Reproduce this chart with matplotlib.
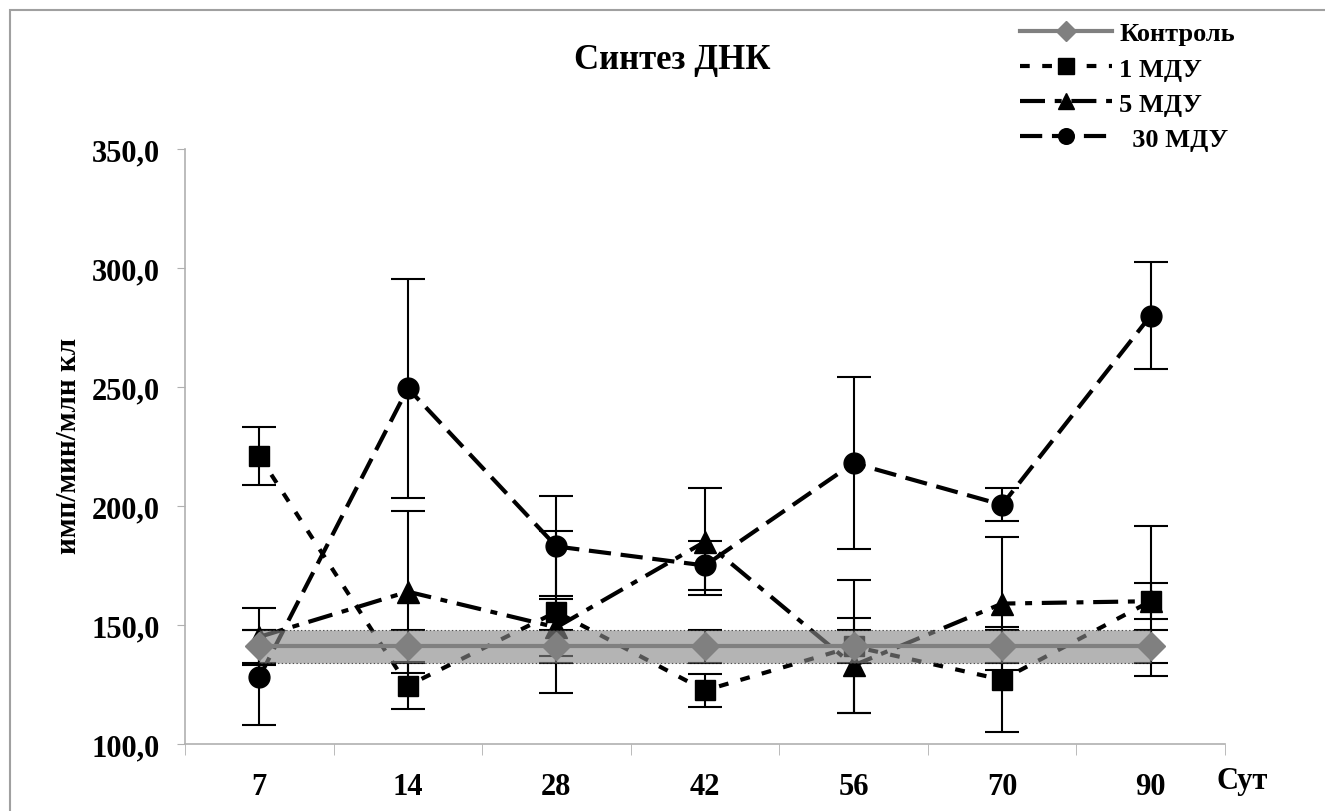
import matplotlib
matplotlib.use("Agg")
import matplotlib.pyplot as plt
import matplotlib.patches as mPatches
import numpy as np

plt.rcParams['font.family'] = ['Liberation Serif', 'DejaVu Serif']
plt.rcParams['font.weight'] = 'bold'
plt.rcParams['lines.scale_dashes'] = False

# ----- data -----
days = ['7', '14', '28', '42', '56', '70', '90']
control = [141, 141, 141, 141, 141, 141, 141]
control_sd = [7, 7, 7, 7, 7, 7, 7]
mdu1 = [221, 124.5, 155.5, 122.5, 141, 127, 160]
mdu1_sd = [12, 10, 34, 7, 28, 22, 7.5]
mdu5 = [145, 164, 149, 185, 133, 159, 160]
mdu5_sd = [12, 34, 12, 22.5, 20, 28, 31.5]
mdu30 = [128, 249.5, 183, 175, 218, 200.5, 280]
mdu30_sd = [20, 46, 21, 10.5, 36, 7, 22.5]

x = np.arange(len(days))

f, ax1 = plt.subplots(1, 1, figsize=(13.25, 8.12), dpi=100)
f.subplots_adjust(left=0.1396, right=0.9245, bottom=0.0825, top=0.8153)

# outer chart frame
f.patches.append(mPatches.Rectangle((10 / 1325, -0.1), 1.2, 1 - 11 / 812 + 0.1,
                                    transform=f.transFigure, fill=False,
                                    edgecolor='#a0a0a0', lw=1.5))

ebkw = dict(fmt='none', ecolor='black', elinewidth=1.5, capsize=12, capthick=1.5, zorder=2)
ax1.errorbar(x, mdu1, yerr=mdu1_sd, **ebkw)
ax1.errorbar(x, mdu5, yerr=mdu5_sd, **ebkw)
ax1.errorbar(x, mdu30, yerr=mdu30_sd, **ebkw)
ax1.errorbar(x, control, yerr=control_sd, **ebkw)

l1, = ax1.plot(x, mdu1, color='black', lw=3, marker='s', ms=15, label='1 МДУ', zorder=3)
l1.set_dashes((7, 9))
l5, = ax1.plot(x, mdu5, color='black', lw=3, marker='^', ms=16, label='5 МДУ', zorder=3)
l5.set_dashes((18, 7, 5, 7))
l30, = ax1.plot(x, mdu30, color='black', lw=3, marker='o', ms=15, label='  30 МДУ', zorder=3)
l30.set_dashes((16, 7))

# control range band drawn over the series
lo = np.array(control) - np.array(control_sd)
hi = np.array(control) + np.array(control_sd)
ax1.fill_between(x, lo, hi, facecolor='#888888', alpha=0.63, edgecolor='black',
                 linestyle=':', lw=0.8, zorder=4)
lc, = ax1.plot(x, control, color='#808080', lw=3, marker='D', ms=14,
               label='Контроль', zorder=5)

ax1.set_xlim(-0.5, len(days) - 0.5)
ax1.set_ylim(100, 350)
yt = np.arange(100, 351, 50)
ax1.set_yticks(yt)
ax1.set_yticklabels([('%.1f' % v).replace('.', ',') for v in yt])
ax1.set_xticks(x)
ax1.set_xticklabels(days)
ax1.set_xticks(np.arange(-0.5, len(days), 1), minor=True)
ax1.tick_params(axis='x', which='major', length=0, pad=20, labelsize=22)
ax1.tick_params(axis='x', which='minor', length=8, color='#b0b0b0', direction='out')
ax1.tick_params(axis='y', length=6, color='#b0b0b0', pad=12, labelsize=22)

for s in ['top', 'right']:
    ax1.spines[s].set_visible(False)
for s in ['left', 'bottom']:
    ax1.spines[s].set_color('#b0b0b0')
    ax1.spines[s].set_linewidth(1.2)

ax1.set_ylabel('имп/мин/млн кл', fontsize=21, fontweight='bold')
ax1.yaxis.set_label_coords(-0.099, 0.503)
ax1.text(0.992, -0.037, 'Сут', transform=ax1.transAxes, fontsize=22,
         fontweight='bold', ha='left', va='top')
f.text(0.507, 0.926, 'Синтез ДНК', fontsize=25, fontweight='bold', ha='center', va='center')

f.legend(handles=[lc, l1, l5, l30], loc='upper left', bbox_to_anchor=(1020 / 1325, 1 - 23 / 812),
         frameon=False, fontsize=19, handlelength=3.5, handletextpad=0.27,
         labelspacing=0.44, borderpad=0, borderaxespad=0, markerscale=0.75)

plt.savefig('out.png', dpi=100)
